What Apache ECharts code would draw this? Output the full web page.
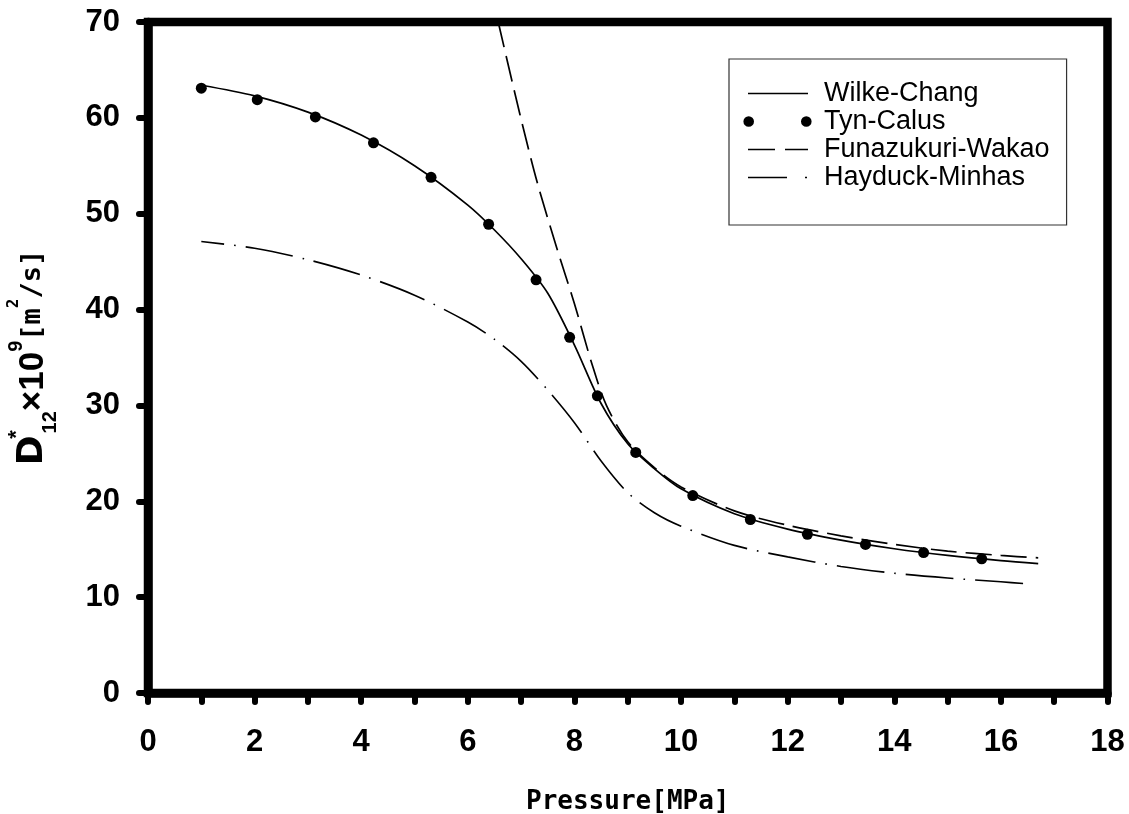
<!DOCTYPE html>
<html>
<head>
<meta charset="utf-8">
<script src="https://cdn.jsdelivr.net/npm/echarts@6/dist/echarts.min.js"></script>
<style>
  html, body { margin: 0; padding: 0; background: #ffffff; }
  #chart { width: 1129px; height: 814px; }
</style>
</head>
<body>
<div id="chart"></div>
<script>
// Diffusion coefficient D*12 (x10^9 m^2/s) against pressure (MPa)
const seriesNames = ['Wilke-Chang', 'Tyn-Calus', 'Funazukuri-Wakao', 'Hayduck-Minhas'];

const wilkeP = [1, 2, 3, 4, 5, 6, 6.5, 7, 7.5, 8, 8.5, 9, 9.5, 10, 11, 12, 13, 14, 15, 16, 16.7];
const wilkeD = [63.4, 62.3, 60.6, 58.2, 55.0, 50.9, 48.3, 45.3, 41.7, 36.3, 30.2, 26.0, 23.4, 21.3, 18.7, 17.1, 15.95, 15.05, 14.35, 13.8, 13.5];

const tynP = [1.0, 2.05, 3.14, 4.23, 5.31, 6.39, 7.28, 7.91, 8.43, 9.15, 10.22, 11.30, 12.37, 13.46, 14.55, 15.64];
const tynD = [63.1, 61.9, 60.1, 57.4, 53.8, 48.9, 43.1, 37.1, 31.0, 25.1, 20.6, 18.1, 16.55, 15.5, 14.65, 14.0];

const funaP = [6.57, 6.98, 7.3, 7.67, 8.0, 8.33, 8.6, 9.0, 9.5, 10, 11, 12, 13, 14, 15, 16, 16.7];
const funaD = [70, 60.3, 53.3, 46.4, 40.6, 34.3, 30.0, 26.2, 23.5, 21.5, 19.0, 17.5, 16.4, 15.5, 14.8, 14.35, 14.1];

const hayP = [1.0, 2, 3, 4, 5, 6, 6.5, 7, 7.5, 8, 8.5, 9, 9.5, 10, 11, 12, 13, 14, 15, 16, 16.46];
const hayD = [47.1, 46.4, 45.2, 43.6, 41.5, 38.7, 36.9, 34.6, 31.6, 28.2, 24.2, 20.9, 18.8, 17.4, 15.4, 14.2, 13.2, 12.5, 12.0, 11.6, 11.4];

const xTicks = { min: 0, max: 18, interval: 2 };
const yTicks = { min: 0, max: 70, interval: 10 };

const pairs = (xs, ys) => xs.map((x, i) => [x, ys[i]]);

// legend swatches share one frame (-6..66 x 0..24) so they scale alike
const frame = 'M-6,0M66,24';
const legendIcons = [
  'path://' + frame + 'M0,11.2H60V12.8H0Z',
  'path://' + frame + 'M-4.6,12a5.3,5.3 0 1,0 10.6,0a5.3,5.3 0 1,0 -10.6,0Z' +
    'M53,12a5.3,5.3 0 1,0 10.6,0a5.3,5.3 0 1,0 -10.6,0Z',
  'path://' + frame + 'M0,11.2H27V12.8H0ZM37,11.2H60V12.8H37Z',
  'path://' + frame + 'M0,11.2H39V12.8H0ZM57,11.2H59V12.8H57Z'
];

const black = '#000000';
const axisLineW = 8.5;
const tickStyle = { color: black, width: 6, cap: 'round' };
const labelFont = { fontFamily: 'Liberation Sans', fontWeight: 'bold', fontSize: 31, color: black };

const chart = echarts.init(document.getElementById('chart'), null, { renderer: 'canvas' });

chart.setOption({
  backgroundColor: '#ffffff',
  animation: false,
  grid: {
    left: 148, right: 21.5, top: 22, bottom: 121,
    outerBoundsMode: 'none',
    show: true, borderColor: black, borderWidth: axisLineW, backgroundColor: 'transparent'
  },
  legend: {
    left: 729, top: 59,
    orient: 'vertical',
    selectedMode: false,
    itemWidth: 72, itemHeight: 24, itemGap: 1,
    padding: [21, 17, 34, 13],
    borderColor: '#333333', borderWidth: 1.2,
    backgroundColor: '#ffffff',
    itemStyle: { borderWidth: 0, color: black, opacity: 1 },
    textStyle: { fontFamily: 'Liberation Sans', fontSize: 27, color: black, padding: [0, 0, 0, 5] },
    data: seriesNames.map((n, i) => ({ name: n, icon: legendIcons[i] }))
  },
  xAxis: {
    type: 'value',
    min: xTicks.min, max: xTicks.max, interval: xTicks.interval,
    name: 'Pressure[MPa]',
    nameLocation: 'middle',
    nameGap: 96,
    nameTextStyle: { fontFamily: 'DejaVu Sans Mono', fontWeight: 'bold', fontSize: 26, color: black },
    axisLine: { show: true, onZero: false, lineStyle: { color: black, width: axisLineW } },
    axisTick: { show: true, inside: false, length: 9, lineStyle: tickStyle },
    minorTick: { show: true, splitNumber: 2, length: 9, lineStyle: tickStyle },
    axisLabel: Object.assign({ margin: 34 }, labelFont),
    splitLine: { show: false },
    minorSplitLine: { show: false }
  },
  yAxis: {
    type: 'value',
    min: yTicks.min, max: yTicks.max, interval: yTicks.interval,
    name: '{d|D}{star|*}{sub|12}{b|×10}{sup|9}{g|[m}{sup2|2}{g|/s]}',
    nameLocation: 'middle',
    nameRotate: 90,
    nameGap: 88,
    nameTextStyle: {
      color: black,
      rich: {
        d: { fontFamily: 'DejaVu Sans', fontWeight: 'bold', fontSize: 36, lineHeight: 54, color: black },
        star: { fontFamily: 'Liberation Sans', fontWeight: 'bold', fontSize: 22, lineHeight: 16, verticalAlign: 'top', width: 2, color: black },
        sub: { fontFamily: 'Liberation Sans', fontWeight: 'bold', fontSize: 20, lineHeight: 20, verticalAlign: 'bottom', color: black },
        b: { fontFamily: 'Liberation Sans', fontWeight: 'bold', fontSize: 35, lineHeight: 54, color: black },
        sup: { fontFamily: 'Liberation Sans', fontWeight: 'bold', fontSize: 20, lineHeight: 18, verticalAlign: 'top', color: black },
        g: { fontFamily: 'DejaVu Sans Mono', fontWeight: 'bold', fontSize: 27, lineHeight: 54, color: black },
        sup2: { fontFamily: 'DejaVu Sans Mono', fontWeight: 'bold', fontSize: 16, lineHeight: 22, verticalAlign: 'top', color: black }
      }
    },
    axisLine: { show: true, onZero: false, lineStyle: { color: black, width: axisLineW } },
    axisTick: { show: true, inside: false, length: 9, lineStyle: tickStyle },
    axisLabel: Object.assign({ margin: 28 }, labelFont),
    splitLine: { show: false }
  },
  series: [
    {
      name: seriesNames[0], type: 'line', data: pairs(wilkeP, wilkeD),
      smooth: 0.3, showSymbol: false, symbol: 'none',
      lineStyle: { color: black, width: 1.7 }, itemStyle: { color: black }, z: 3
    },
    {
      name: seriesNames[1], type: 'scatter', data: pairs(tynP, tynD),
      symbol: 'circle', symbolSize: 11,
      itemStyle: { color: black, borderWidth: 0, opacity: 1 }, z: 5
    },
    {
      name: seriesNames[2], type: 'line', data: pairs(funaP, funaD),
      smooth: 0.3, showSymbol: false, symbol: 'none',
      lineStyle: { color: black, width: 1.7, type: [26, 9] }, itemStyle: { color: black }, z: 3
    },
    {
      name: seriesNames[3], type: 'line', data: pairs(hayP, hayD),
      smooth: 0.3, showSymbol: false, symbol: 'none',
      lineStyle: { color: black, width: 1.6, type: [48, 10, 1.6, 10], dashOffset: 25 },
      itemStyle: { color: black }, z: 3
    }
  ]
});
</script>
</body>
</html>
